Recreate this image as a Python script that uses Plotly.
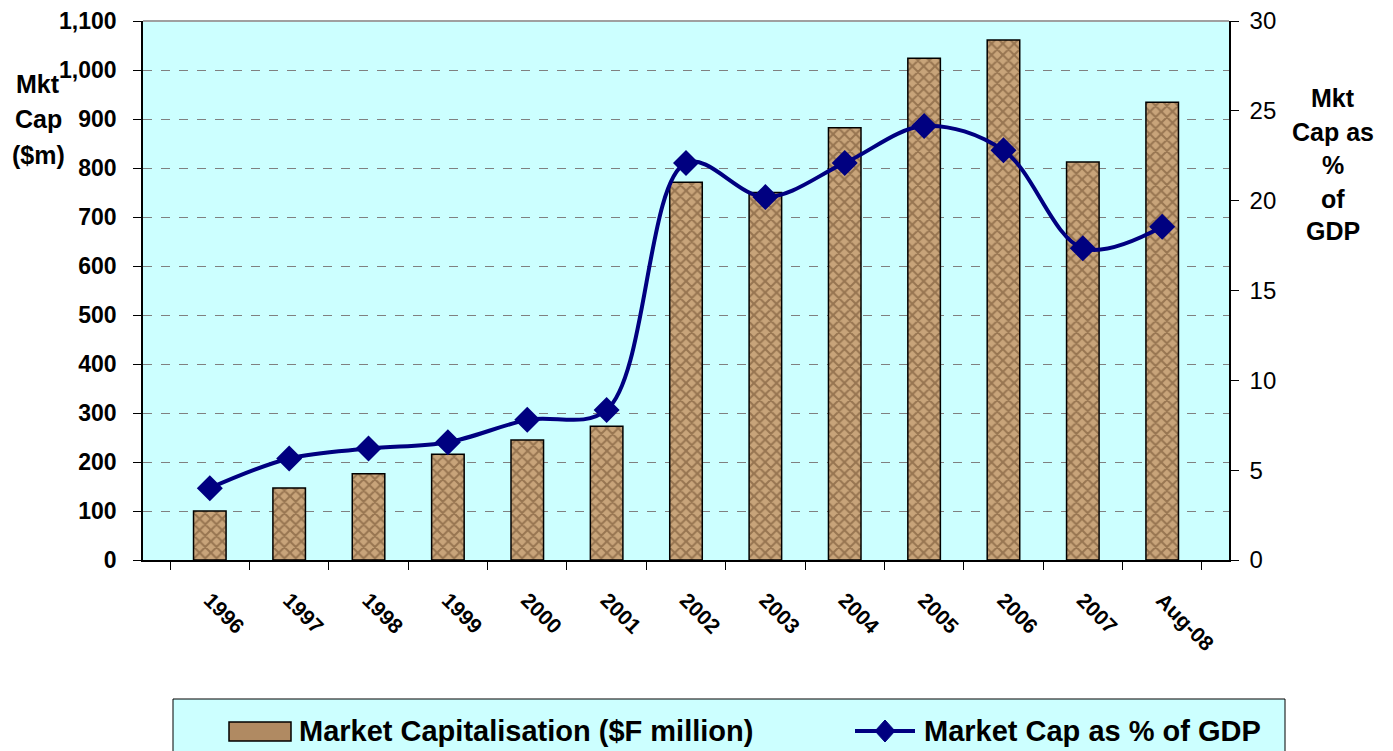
import plotly.graph_objects as go
from plotly.subplots import make_subplots

colors = {
    "plot_bg": "#CCFFFF",
    "bar": "#C8A47A",
    "bar_dark": "#664628",
    "swatch": "#B08A62",
    "line": "#000080",
    "text": "#000000",
}

years = ["1996", "1997", "1998", "1999", "2000", "2001", "2002",
         "2003", "2004", "2005", "2006", "2007", "Aug-08"]
mkt_cap = [100, 147, 176, 216, 245, 273, 771, 750, 882, 1024, 1061, 812, 934]
mkt_cap_pct_gdp = [4.0, 5.65, 6.2, 6.55, 7.8, 8.35, 22.1, 20.2, 22.1, 24.15, 22.8, 17.35, 18.55]

bar_name = "Market Capitalisation ($F million)"
line_name = "Market Cap as % of GDP"
left_title = ["Mkt", "Cap", "($m)"]
right_title = ["Mkt", "Cap as", "%", "of", "GDP"]

font_family = "Arial, Liberation Sans, sans-serif"

# page has an 8px body margin, so the figure is shifted by 8px
PAGE_OFF = 8
PLOT_L, PLOT_R, PLOT_T, PLOT_B = 143, 1229, 21, 560


def px_x(px):
    return (px - PLOT_L) / (PLOT_R - PLOT_L)


def px_y(py):
    return (PLOT_B - py) / (PLOT_B - PLOT_T)


fig = make_subplots(specs=[[{"secondary_y": True}]])

fig.add_trace(go.Bar(
    x=years,
    y=mkt_cap,
    name=bar_name,
    marker=dict(
        color=colors["bar"],
        line=dict(color="#000000", width=1.5),
        pattern=dict(shape="x", fgcolor=colors["bar_dark"], size=8, solidity=0.45),
    ),
), secondary_y=False)

fig.add_trace(go.Scatter(
    x=years,
    y=mkt_cap_pct_gdp,
    name=line_name,
    mode="lines+markers",
    line=dict(color=colors["line"], width=4, shape="spline", smoothing=1.0),
    marker=dict(symbol="diamond", size=20, color=colors["line"]),
), secondary_y=True)

W, H = 1393 - PAGE_OFF, 751 - PAGE_OFF
fig.update_layout(
    width=W,
    height=H,
    margin=dict(l=PLOT_L - PAGE_OFF, r=W - (PLOT_R - PAGE_OFF),
                t=PLOT_T - PAGE_OFF, b=H - (PLOT_B - PAGE_OFF), autoexpand=False),
    plot_bgcolor=colors["plot_bg"],
    paper_bgcolor="#FFFFFF",
    font=dict(family=font_family, color=colors["text"], size=20),
    bargap=0.59,
    showlegend=False,
)

fig.update_xaxes(
    domain=[0, 1],
    type="category",
    tickangle=45,
    tickfont=dict(size=21, weight="bold"),
    ticklabelstandoff=18,
    showline=True, linecolor="#000000", linewidth=1.5,
    ticks="outside", tickson="boundaries", ticklen=8, tickcolor="#000000",
    showgrid=False, automargin=False,
)

fig.update_yaxes(
    range=[0, 1100], dtick=100, tickformat=",d",
    tickfont=dict(size=23, weight="bold"),
    ticklabelstandoff=12, ticklabeloverflow="allow",
    showline=True, linecolor="#000000", linewidth=1.5,
    ticks="outside", ticklen=8, tickcolor="#000000",
    showgrid=True, gridcolor="#808080", griddash="dash", gridwidth=1,
    zeroline=False, automargin=False,
    secondary_y=False,
)

fig.update_yaxes(
    range=[0, 30], dtick=5,
    tickfont=dict(size=24),
    ticklabelstandoff=6, ticklabeloverflow="allow",
    showline=True, linecolor="#000000", linewidth=1.5,
    ticks="outside", ticklen=8, tickcolor="#000000",
    showgrid=False, zeroline=False, automargin=False,
    secondary_y=True,
)

# solid top border of the plot area
fig.add_shape(type="line", xref="paper", yref="paper", x0=0, x1=1, y0=1, y1=1,
              line=dict(color="#A0A0A0", width=2))

# axis titles, one annotation per line
for text, py in zip(left_title, [84, 119, 155]):
    fig.add_annotation(text=text, xref="paper", yref="paper", x=px_x(38), y=px_y(py),
                       xanchor="center", yanchor="middle", showarrow=False,
                       font=dict(size=25, weight="bold"))
for text, py in zip(right_title, [98, 132, 165, 199, 231]):
    fig.add_annotation(text=text, xref="paper", yref="paper", x=px_x(1333), y=px_y(py),
                       xanchor="center", yanchor="middle", showarrow=False,
                       font=dict(size=25, weight="bold"))

# legend box drawn by hand (wide swatches like the original)
leg_y = 731
fig.add_shape(type="rect", xref="paper", yref="paper",
              x0=px_x(173), x1=px_x(1285), y0=px_y(699), y1=px_y(760),
              fillcolor=colors["plot_bg"], line=dict(color="#000000", width=1))
fig.add_shape(type="rect", xref="paper", yref="paper",
              x0=px_x(229), x1=px_x(291), y0=px_y(722), y1=px_y(741),
              fillcolor=colors["swatch"], line=dict(color="#000000", width=1.5))
fig.add_shape(type="line", xref="paper", yref="paper",
              x0=px_x(855), x1=px_x(915), y0=px_y(leg_y), y1=px_y(leg_y),
              line=dict(color=colors["line"], width=4))
cx, hw, hh = 885, 10, 11
fig.add_shape(type="path", xref="paper", yref="paper",
              path=(f"M {px_x(cx - hw)} {px_y(leg_y)} L {px_x(cx)} {px_y(leg_y - hh)} "
                    f"L {px_x(cx + hw)} {px_y(leg_y)} L {px_x(cx)} {px_y(leg_y + hh)} Z"),
              fillcolor=colors["line"], line=dict(color=colors["line"], width=1))
for text, px in [(bar_name, 297), (line_name, 922)]:
    fig.add_annotation(text=text, xref="paper", yref="paper", x=px_x(px), y=px_y(leg_y),
                       xanchor="left", yanchor="middle", showarrow=False,
                       font=dict(size=29, weight="bold"))

fig.write_html("out.html")
